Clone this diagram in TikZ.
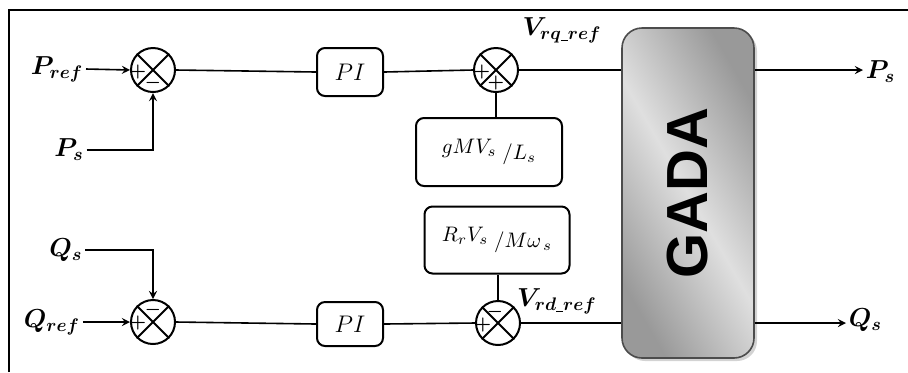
\RequirePackage{fix-cm}
\documentclass[tikz,border=0pt]{standalone}
\usepackage{bm}
\usepackage{fontspec}
\newfontfamily\gadafont{Liberation Sans}
\usetikzlibrary{shadows}
\newcommand\usc{\rule[-1pt]{3.5pt}{.6pt}}
\begin{document}
\begin{tikzpicture}[x=.5pt,y=-.5pt,line width=.8pt,>=stealth,
  sum/.style={circle,draw,line width=1pt,minimum size=22pt,inner sep=0pt},
  blk/.style={draw,rounded corners=4pt,line width=1pt,font=\fontsize{10.5}{12}\selectfont},
  lbl/.style={font=\fontsize{13}{15}\selectfont,inner sep=1pt},
  sgn/.style={font=\small,inner sep=0pt}]
\useasboundingbox (0,0) rectangle (908,372);
\draw[line width=1pt] (9,372) -- (9,10) -- (908,10);
\node[sum] (s1) at (153,70) {};
\node[sum] (s2) at (496,70) {};
\node[sum] (s3) at (153,322) {};
\node[sum] (s4) at (498,323) {};
\foreach \n in {s1,s2,s3,s4}{\draw[line width=1pt] (\n.north west)--(\n.south east) (\n.north east)--(\n.south west);}
\foreach \n/\k/\dx/\dy/\t in {s1/a/-15/2/+,s1/b/0/13/-,s2/a/-14/2/+,s2/b/0/13/+,s3/a/-15/1/+,s3/b/0/-12/-,s4/a/-15/2/+,s4/b/-3/-11/-}
  {\node[sgn] (\n\k) at ([shift={(\dx,\dy)}]\n) {$\bm{\t}$};}
\node[blk,font=\fontsize{12}{14}\selectfont,minimum width=33pt,minimum height=24pt] (pi1) at (350,72) {$PI$};
\node[blk,font=\fontsize{12}{14}\selectfont,minimum width=33pt,minimum height=22pt] (pi2) at (350,324) {$PI$};
\node[blk,minimum width=73pt,minimum height=34pt] (gmv) at (489,152) {$gMV_s\;\raisebox{-3pt}{$/L_s$}$};
\node[blk,minimum width=72.5pt,minimum height=33.5pt] (rr) at (497,240) {$R_rV_s\;\raisebox{-3pt}{$/M\omega_{\,s}$}$};
\node[draw=gray!60!black,line width=.8pt,rounded corners=10pt,minimum width=66pt,minimum height=165pt,
  left color=gray!80,right color=gray!80,middle color=gray!25,shading angle=120,
  drop shadow={shadow xshift=1.5pt,shadow yshift=-1.5pt,opacity=.35}] (gada) at (688,193) {};
\node[rotate=90,font=\gadafont\bfseries\fontsize{29}{31}\selectfont] (gadat) at (gada) {GADA};
\node[lbl] (pref) at (57,69) {$\bm{P_{ref}}$};
\node[lbl] (ps) at (69,150) {$\bm{P_s}$};
\node[lbl] (qs) at (66,250) {$\bm{Q_s}$};
\node[lbl] (qref) at (52,322) {$\bm{Q_{ref}}$};
\node[lbl] (vrq) at (562,30) {$\bm{V_{rq\usc ref}}$};
\node[lbl] (vrd) at (557,301) {$\bm{V_{rd\usc ref}}$};
\node[lbl,anchor=west] (psout) at (863,72) {$\bm{P_s}$};
\node[lbl,anchor=west] (qsout) at (846,320) {$\bm{Q_s}$};
\draw[->] (pref.east) -- (s1.west);
\draw[->] (ps.east) -| (s1.south);
\draw (s1.east) -- (pi1.west);
\draw (pi1.east) -- (s2.west);
\draw (s2.south) -- (s2.south |- gmv.north);
\draw (s2.east) -- (s2.east -| gada.west);
\draw[->] (s2 -| gada.east) -- (s2 -| psout.west);
\draw[->] (qs.east) -| (s3.north);
\draw[->] (qref.east) -- (s3.west);
\draw (s3.east) -- (pi2.west);
\draw (pi2.east) -- (s4.west);
\draw (s4.north) -- (s4.north |- rr.south);
\draw (s4.east) -- (s4.east -| gada.west);
\draw[->] (s4 -| gada.east) -- (s4 -| qsout.west);
\end{tikzpicture}
\end{document}
